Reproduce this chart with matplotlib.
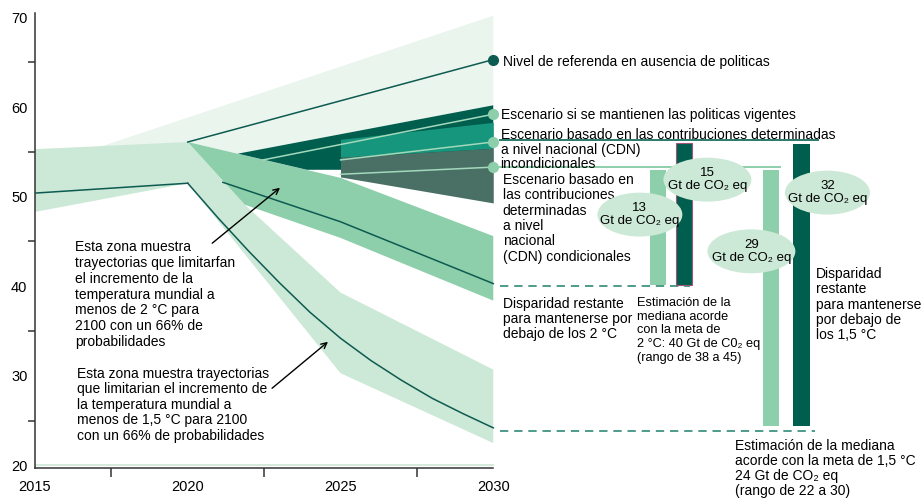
import numpy as np
import matplotlib
matplotlib.use("Agg")
import matplotlib.pyplot as plt
from matplotlib.patches import Ellipse

plt.rcParams['font.family'] = ['Liberation Sans', 'DejaVu Sans']
plt.rcParams['font.size'] = 10

# ---- datos (Gt de CO2 eq) ----
hist_years = [2015, 2020]
hist_median = [50.4, 51.5]

# zona 1,5 C (con el tramo historico)
b15_up_x = [2015, 2020, 2021.87, 2025, 2030]
b15_up = [55.3, 56.1, 49.1, 39.3, 30.7]
b15_lo_x = [2015, 2020, 2025, 2030]
b15_lo = [48.3, 51.5, 30.3, 22.5]
med15_years = [2020, 2021, 2022, 2023, 2024, 2025, 2026, 2027, 2028, 2029, 2030]
med15 = [51.5, 47.6, 43.9, 40.4, 37.1, 34.2, 31.7, 29.5, 27.5, 25.8, 24.2]

# zona 2 C
b2_up_x = [2020, 2025, 2030]
b2_up = [56.1, 52.1, 45.6]
b2_lo_x = [2020, 2021.87, 2025, 2030]
b2_lo = [56.1, 49.1, 45.4, 38.4]
med2_years = [2021.15, 2025, 2030]
med2 = [51.6, 47.2, 40.3]

# nivel de referencia
ref_years = [2020, 2030]
ref_line = [56.1, 65.3]
ref_band_x = [2016.9, 2030, 2030, 2021.64, 2020]
ref_band_y = [55.3, 70.2, 60.2, 54.8, 56.1]

# politicas vigentes
pol_up_x = [2021.64, 2030]
pol_up = [54.8, 60.2]
pol_lo_x = [2021.64, 2023.9, 2030]
pol_lo = [54.8, 53.0, 53.0]
pol_med_years = [2022.46, 2030]
pol_med = [54.1, 59.2]

# CDN incondicionales / condicionales
cdn_years = [2025, 2030]
incond_up = [56.4, 58.3]
incond_lo = [54.4, 55.4]
cond_lo = [52.2, 49.3]
incond_med = [54.1, 56.1]
cond_med = [52.5, 53.3]

# niveles de 2030 y disparidades
incond_level = 56.3
cond_level = 53.35
meta2 = 40.05
meta15 = 23.85
gap_bottom = [40.1, 40.1, 24.4, 24.4]
gap_top = [53.0, 56.0, 53.0, 55.9]
gap_values = [13, 15, 29, 32]

# colores
c_pale = '#eaf5ee'
c_light = '#cce8d6'
c_mid = '#8dcfaa'
c_dark = '#005e4e'
c_teal = '#16967c'
c_gray = '#4a7066'
c_line = '#0d5b50'
c_lline = '#a3d8bb'

fig = plt.figure(figsize=(9.22, 4.99), dpi=100)
ax = fig.add_axes([35/922, 1 - 467.7/499, 887/922, (467.7 - 13)/499])
ax.set_xlim(2015, 2015 + 887/30.55)
ax.set_ylim(19.75, 70.5)

# bandas
ax.fill(ref_band_x, ref_band_y, color=c_pale, lw=0, zorder=1)
ax.fill(b15_up_x + b15_lo_x[::-1], b15_up + b15_lo[::-1], color=c_light, lw=0, zorder=2)
ax.fill(b2_up_x + b2_lo_x[::-1], b2_up + b2_lo[::-1], color=c_mid, lw=0, zorder=3)
ax.fill(pol_up_x + pol_lo_x[::-1], pol_up + pol_lo[::-1], color=c_dark, lw=0, zorder=3)
ax.fill_between(cdn_years, incond_lo, incond_up, color=c_teal, lw=0, zorder=4)
ax.fill_between(cdn_years, cond_lo, incond_lo, color=c_gray, lw=0, zorder=4)
ax.plot([2015, 2030], [20, 20], color=c_light, lw=1.2, zorder=2)

# lineas medianas
ax.plot(hist_years, hist_median, color=c_line, lw=1.1, zorder=5)
ax.plot(med15_years, med15, color=c_line, lw=1.1, zorder=5)
ax.plot(med2_years, med2, color=c_line, lw=1.1, zorder=5)
ax.plot(ref_years, ref_line, color=c_line, lw=1.1, zorder=5)
ax.plot(ref_years[-1], ref_line[-1], 'o', color=c_line, ms=7, zorder=6, clip_on=False)
ax.plot(pol_med_years, pol_med, color=c_lline, lw=1.1, zorder=5)
ax.plot(cdn_years, incond_med, color=c_lline, lw=1.1, zorder=5)
ax.plot(cdn_years, cond_med, color=c_lline, lw=1.1, zorder=5)
for yv in [pol_med[-1], incond_med[-1], cond_med[-1]]:
    ax.plot(2030, yv, 'o', color=c_mid, ms=7, zorder=6, clip_on=False)

# lineas de nivel a la derecha
ax.plot([2030.22, 2040.63], [incond_level, incond_level], color='#2a7a6a', lw=1.4, zorder=3)
ax.plot([2030.22, 2039.39], [cond_level, cond_level], color=c_mid, lw=1.4, zorder=3)
ax.plot([2030.22, 2036.44], [meta2, meta2], color='#2f8a78', lw=1.2, ls=(0, (5, 3.5)), zorder=3)
ax.plot([2030.22, 2040.53], [meta15, meta15], color='#2f8a78', lw=1.2, ls=(0, (5, 3.5)), zorder=3)

# barras de disparidad
bar_x = [2035.39, 2036.24, 2039.08, 2040.09]
bar_c = [c_mid, c_dark, c_mid, c_dark]
heights = np.array(gap_top) - np.array(gap_bottom)
bars = ax.bar(bar_x, heights, bottom=gap_bottom, width=0.53, color=bar_c, zorder=4)
bars[1].set_edgecolor('#a0557a')
bars[1].set_linewidth(0.8)

# burbujas
bub_x = [2034.80, 2037.01, 2038.45, 2040.94]
bub_y = [48.0, 51.9, 43.9, 50.45]
bub_w = [2.78, 2.88, 2.88, 2.78]
for x, y, w, v in zip(bub_x, bub_y, bub_w, gap_values):
    ax.add_patch(Ellipse((x, y), w, 4.9, color=c_light, lw=0, zorder=7))
    ax.text(x, y, f"{v}\nGt de CO\u2082 eq", ha='center', va='center',
            fontsize=9.5, linespacing=1.05, zorder=8)

# textos
ax.text(2030.32, 65.81, "Nivel de referenda en ausencia de politicas", va='top')
ax.text(2030.24, 59.90, "Escenario si se mantienen las politicas vigentes", va='top')
ax.text(2030.24, 57.63, "Escenario basado en las contribuciones determinadas\n"
        "a nivel nacional (CDN)\nincondicionales", va='top', linespacing=1.045)
ax.text(2030.31, 52.68, "Escenario basado en\nlas contribuciones\ndeterminadas\na nivel\n"
        "nacional\n(CDN) condicionales", va='top', linespacing=1.13)
ax.text(2030.31, 38.84, "Disparidad restante\npara mantenerse por\ndebajo de los 2 °C",
        va='top', linespacing=1.12)
ax.text(2034.72, 38.84, "Estimación de la\nmediana acorde\ncon la meta de\n"
        "2 °C: 40 Gt de C0\u2082 eq\n(rango de 38 a 45)", va='top', fontsize=9.2,
        linespacing=1.21)
ax.text(2040.56, 42.19, "Disparidad\nrestante\npara mantenerse\npor debajo de\nlos 1,5 °C",
        va='top', linespacing=1.13)
ax.text(2037.91, 22.92, "Estimación de la mediana\nacorde con la meta de 1,5 °C\n"
        "24 Gt de CO\u2082 eq\n(rango de 22 a 30)", va='top', linespacing=1.08)
ax.text(2016.30, 45.17, "Esta zona muestra\ntrayectorias que limitarfan\nel incremento de la\n"
        "temperatura mundial a\nmenos de 2 °C para\n2100 con un 66% de\nprobabilidades",
        va='top', linespacing=1.17)
ax.text(2016.36, 31.03, "Esta zona muestra trayectorias\nque limitarian el incremento de\n"
        "la temperatura mundial a\nmenos de 1,5 °C para 2100\ncon un 66% de probabilidades",
        va='top', linespacing=1.14)

ax.annotate("", xy=(2023.09, 51.19), xytext=(2020.73, 44.61),
            arrowprops=dict(arrowstyle='->', color='black', lw=1.0), zorder=9)
ax.annotate("", xy=(2024.66, 34.0), xytext=(2022.69, 28.42),
            arrowprops=dict(arrowstyle='->', color='black', lw=1.0), zorder=9)

# ejes
for s in ['top', 'right']:
    ax.spines[s].set_visible(False)
ax.spines['bottom'].set_bounds(2015, 2030)
ax.spines['left'].set_color('#333333')
ax.spines['bottom'].set_color('#333333')
ax.spines['left'].set_linewidth(1.1)
ax.spines['bottom'].set_linewidth(1.1)

ax.set_xticks([2015, 2020, 2025, 2030])
ax.set_xticks([2017.5, 2022.5, 2027.5], minor=True)
ax.set_yticks([20, 30, 40, 50, 60, 70])
ax.set_yticks([25, 35, 45, 55, 65], minor=True)
ax.tick_params(axis='x', which='major', length=0, pad=9, labelsize=10.5)
ax.tick_params(axis='x', which='minor', length=6.5, width=1.1, color='#333333')
ax.tick_params(axis='y', which='major', length=0, pad=5.5, labelsize=10.5)
ax.tick_params(axis='y', which='minor', length=5, width=1.1, color='#333333')

fig.savefig("out.png", dpi=100)
